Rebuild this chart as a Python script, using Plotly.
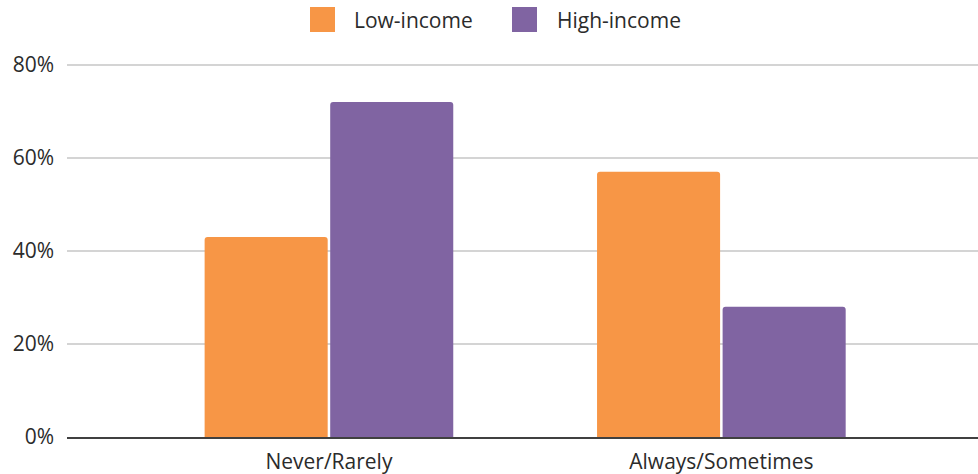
import plotly.graph_objects as go

# Survey responses by income group (share of respondents, %)
categories = ["Never/Rarely", "Always/Sometimes"]
series_names = ["Low-income", "High-income"]
low_income = [43, 57]
high_income = [72, 28]
series_colors = ["#F79646", "#8064A2"]
y_ticks = [0, 20, 40, 60, 80]
y_tick_labels = [f"{v}%" for v in y_ticks]

W, H = 978, 474
M_L, M_R, M_T, M_B = 67, 0, 63, 37
PLOT_W = W - M_L - M_R
PLOT_H = H - M_T - M_B
TEXT = "#2b2b2b"
FONT = "Open Sans"


def px_x(px):
    return (px - M_L) / PLOT_W


def px_y(py):
    return (H - M_B - py) / PLOT_H


fig = go.Figure()
for name, vals, col in zip(series_names, [low_income, high_income], series_colors):
    fig.add_trace(go.Bar(
        x=categories, y=vals, name=name,
        marker=dict(color=col, line=dict(width=0)),
        showlegend=False,
        hovertemplate="%{x}: %{y}%<extra>" + name + "</extra>",
    ))

# Legend drawn as swatches + labels across the top
legend_swatch_left = [310, 512]
legend_text_left = [352, 555]
for name, col, sx, tx in zip(series_names, series_colors, legend_swatch_left, legend_text_left):
    fig.add_shape(
        type="rect", xref="paper", yref="paper",
        x0=px_x(sx), x1=px_x(sx + 25), y0=px_y(32), y1=px_y(7),
        fillcolor=col, line=dict(width=0), layer="above",
    )
    fig.add_annotation(
        xref="paper", yref="paper", x=px_x(tx), y=px_y(20),
        xanchor="left", yanchor="middle", showarrow=False,
        text=name, font=dict(family=FONT, size=21, color=TEXT),
    )

fig.update_layout(
    width=W, height=H,
    margin=dict(l=M_L, r=M_R, t=M_T, b=M_B, pad=0),
    paper_bgcolor="white", plot_bgcolor="white",
    barmode="group", bargap=0.36, bargroupgap=0.02,
    barcornerradius=3,
    showlegend=False,
    font=dict(family=FONT, size=21, color=TEXT),
    xaxis=dict(
        type="category", range=[-0.6675, 1.654],
        showgrid=False, showline=True, linecolor="#404040", linewidth=1.5,
        ticks="", tickfont=dict(size=21, color=TEXT),
        ticklabelstandoff=5,
        fixedrange=True,
    ),
    yaxis=dict(
        range=[0, 80.4], tickmode="array",
        tickvals=y_ticks, ticktext=y_tick_labels,
        showgrid=True, gridcolor="#d4d4d4", gridwidth=1.5,
        zeroline=False, showline=False, ticks="",
        ticklabelstandoff=12,
        tickfont=dict(size=21, color=TEXT),
        fixedrange=True,
    ),
)

fig.write_html("out.html")
